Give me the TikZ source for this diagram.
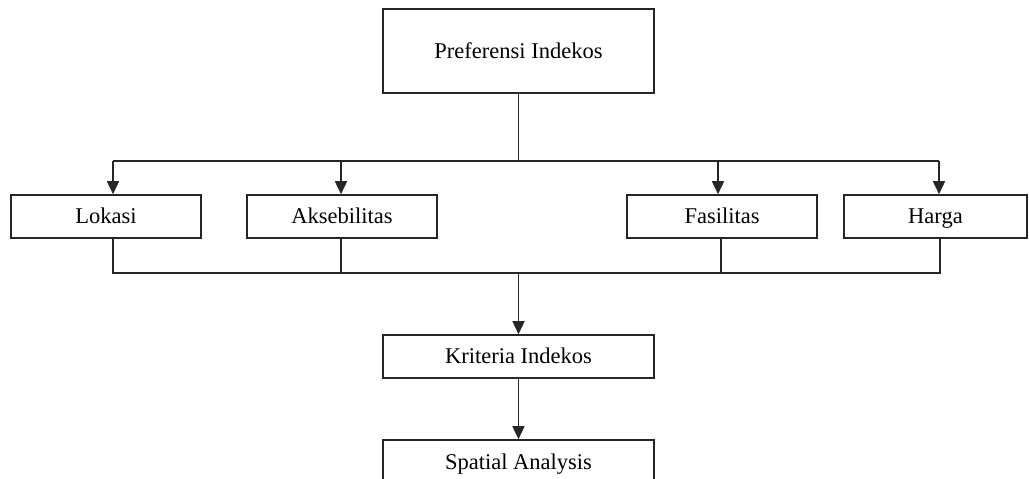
\documentclass[tikz,border=0pt]{standalone}
\usepackage{fontspec}
\setmainfont{Liberation Serif}
\usetikzlibrary{arrows.meta}
\begin{document}
\begin{tikzpicture}[x=1pt,y=-1pt,line width=1.6pt,draw=black!85,
    box/.style={draw,minimum height=43pt,inner sep=0pt,text height=17pt,text depth=3pt,
      font=\fontsize{22.5}{27}\selectfont},
    tip/.style={-{Triangle[length=13pt,width=12pt]}}]
    \useasboundingbox (0,0) rectangle (1029,479);

    % Boxes
    \node[box,minimum width=271pt,minimum height=84pt] (pref) at (518.5,51) {Preferensi Indekos};
    \node[box,minimum width=190pt] (lokasi) at (106,216.5)   {Lokasi};
    \node[box,minimum width=190pt] (akses)  at (342,216.5)   {Aksebilitas};
    \node[box,minimum width=190pt] (fasil)  at (722,216.5)   {Fasilitas};
    \node[box,minimum width=183pt] (harga)  at (935.5,216.5) {Harga};
    \node[box,minimum width=271pt] (krit)   at (518.5,356.5) {Kriteria Indekos};
    \node[box,minimum width=271pt,minimum height=44pt] (spat) at (518.5,462) {Spatial Analysis};

    % branching coordinates (upper)
    \coordinate (t0) at (518.5,161);
    \coordinate (t1) at (113,161);
    \coordinate (t2) at (341,161);
    \coordinate (t3) at (718,161);
    \coordinate (t4) at (939,161);

    % branching coordinates (lower)
    \coordinate (u0) at (518.5,273);
    \coordinate (u1) at (113,273);
    \coordinate (u2) at (341,273);
    \coordinate (u3) at (721,273);
    \coordinate (u4) at (940,273);

    % Lines
    \draw (pref) -- (t0);
    \draw (t1) -- (t4);
    \draw[tip] (t1) -- (t1 |- lokasi.north);
    \draw[tip] (t2) -- (t2 |- akses.north);
    \draw[tip] (t3) -- (t3 |- fasil.north);
    \draw[tip] (t4) -- (t4 |- harga.north);
    \draw (u1 |- lokasi.south) -- (u1) -- (u4) -- (u4 |- harga.south);
    \draw (u2 |- akses.south) -- (u2);
    \draw (u3 |- fasil.south) -- (u3);
    \draw[tip] (u0) -- (krit);
    \draw[tip] (krit) -- (spat);
\end{tikzpicture}
\end{document}
